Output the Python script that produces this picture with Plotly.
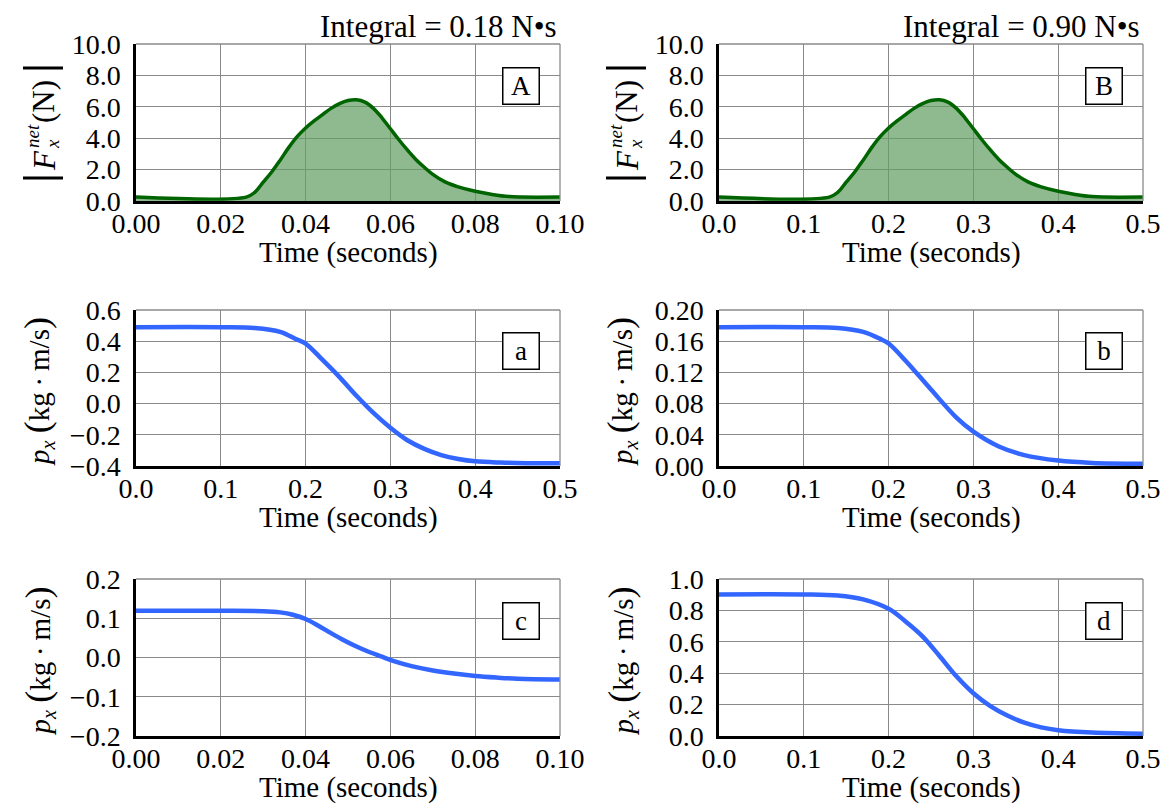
import plotly.graph_objects as go

W, H = 1160, 804
FONT = "Liberation Serif"

# ---------------- data ----------------
tA = [0, 0.026, 0.028, 0.030, 0.032, 0.034, 0.036, 0.038, 0.040, 0.042, 0.044, 0.046,
      0.048, 0.050, 0.052, 0.054, 0.056, 0.058, 0.060, 0.062, 0.064, 0.066, 0.068, 0.070,
      0.073, 0.076, 0.080, 0.084, 0.088, 0.091, 0.100]
fA = [0.25, 0.25, 0.55, 1.2, 1.85, 2.6, 3.4, 4.1, 4.65, 5.1, 5.5, 5.9,
      6.2, 6.4, 6.45, 6.3, 5.9, 5.3, 4.6, 3.9, 3.25, 2.65, 2.15, 1.7,
      1.2, 0.9, 0.62, 0.42, 0.28, 0.25, 0.25]

tB = [0, 0.13, 0.14, 0.15, 0.16, 0.17, 0.18, 0.19, 0.20, 0.21, 0.22, 0.23,
      0.24, 0.25, 0.26, 0.27, 0.28, 0.29, 0.30, 0.31, 0.32, 0.33, 0.34, 0.35,
      0.365, 0.38, 0.40, 0.42, 0.44, 0.455, 0.50]
fB = [0.25, 0.25, 0.55, 1.2, 1.85, 2.6, 3.4, 4.1, 4.65, 5.1, 5.5, 5.9,
      6.2, 6.4, 6.45, 6.3, 5.9, 5.3, 4.6, 3.9, 3.25, 2.65, 2.15, 1.7,
      1.2, 0.9, 0.62, 0.42, 0.28, 0.25, 0.25]

ta = [0, 0.10, 0.14, 0.17, 0.19, 0.20, 0.22, 0.24, 0.26, 0.28, 0.30, 0.32, 0.34, 0.36,
      0.38, 0.40, 0.43, 0.46, 0.50]
pa = [0.49, 0.49, 0.485, 0.46, 0.41, 0.385, 0.28, 0.17, 0.05, -0.06, -0.155, -0.235,
      -0.29, -0.33, -0.355, -0.37, -0.378, -0.382, -0.383]

tb = [0, 0.10, 0.14, 0.17, 0.19, 0.20, 0.22, 0.25, 0.28, 0.30, 0.33, 0.36, 0.40, 0.44, 0.50]
pb = [0.178, 0.178, 0.177, 0.172, 0.163, 0.157, 0.135, 0.098, 0.062, 0.044, 0.025,
      0.014, 0.007, 0.004, 0.003]

tc = [0, 0.020, 0.030, 0.034, 0.037, 0.040, 0.043, 0.046, 0.049, 0.052, 0.055, 0.058,
      0.061, 0.065, 0.070, 0.075, 0.080, 0.085, 0.090, 0.100]
pc = [0.119, 0.119, 0.118, 0.115, 0.109, 0.098, 0.081, 0.062, 0.044, 0.028, 0.014, 0.002,
      -0.010, -0.022, -0.033, -0.041, -0.047, -0.051, -0.054, -0.056]

td = [0, 0.10, 0.14, 0.17, 0.20, 0.22, 0.24, 0.26, 0.28, 0.30, 0.32, 0.34, 0.36, 0.38,
      0.40, 0.44, 0.50]
pd_ = [0.902, 0.902, 0.895, 0.87, 0.81, 0.73, 0.635, 0.51, 0.38, 0.272, 0.19, 0.13,
       0.085, 0.055, 0.037, 0.022, 0.015]

# tick values / labels
xt_short = [0, 0.02, 0.04, 0.06, 0.08, 0.10]
xl_short = ["0.00", "0.02", "0.04", "0.06", "0.08", "0.10"]
xt_long = [0, 0.1, 0.2, 0.3, 0.4, 0.5]
xl_long = ["0.0", "0.1", "0.2", "0.3", "0.4", "0.5"]
yt_F = [0, 2, 4, 6, 8, 10]
yl_F = ["0.0", "2.0", "4.0", "6.0", "8.0", "10.0"]
yt_a = [-0.4, -0.2, 0.0, 0.2, 0.4, 0.6]
yl_a = ["\u22120.4", "\u22120.2", "0.0", "0.2", "0.4", "0.6"]
yt_b = [0, 0.04, 0.08, 0.12, 0.16, 0.20]
yl_b = ["0.00", "0.04", "0.08", "0.12", "0.16", "0.20"]
yt_c = [-0.2, -0.1, 0.0, 0.1, 0.2]
yl_c = ["\u22120.2", "\u22120.1", "0.0", "0.1", "0.2"]
yt_d = [0, 0.2, 0.4, 0.6, 0.8, 1.0]
yl_d = ["0.0", "0.2", "0.4", "0.6", "0.8", "1.0"]

integral_labels = ["Integral = 0.18 N\u2022s", "Integral = 0.90 N\u2022s"]
panel_letters = ["A", "B", "a", "b", "c", "d"]

# per panel: (xmax, xticks, xlabels, ymin, ymax, yticks, ylabels)
axspec = [
    (0.10, xt_short, xl_short, 0, 10, yt_F, yl_F),
    (0.5, xt_long, xl_long, 0, 10, yt_F, yl_F),
    (0.5, xt_long, xl_long, -0.4, 0.6, yt_a, yl_a),
    (0.5, xt_long, xl_long, 0, 0.2, yt_b, yl_b),
    (0.10, xt_short, xl_short, -0.2, 0.2, yt_c, yl_c),
    (0.5, xt_long, xl_long, 0, 1.0, yt_d, yl_d),
]

# ---------------- layout geometry (pixels) ----------------
cols = [(136, 560), (719, 1143)]
rows = [(44, 201), (310, 466), (579, 736)]

def px(x):
    return x / W

def py(y):
    return 1 - y / H

fig = go.Figure()

GREEN = "#006400"
FILL = "rgba(100,160,100,0.72)"
BLUE = "#3366ff"

series = [(tA, fA), (tB, fB), (ta, pa), (tb, pb), (tc, pc), (td, pd_)]

layout = dict(
    width=W, height=H, margin=dict(l=0, r=0, t=0, b=0, autoexpand=False),
    paper_bgcolor="white", plot_bgcolor="white", showlegend=False,
    font=dict(family=FONT, size=28, color="black"),
)
annotations = []
shapes = []

for i, (tx, vy) in enumerate(series):
    r, c = divmod(i, 2)
    x0, x1 = cols[c]
    y0, y1 = rows[r]
    n = "" if i == 0 else str(i + 1)
    xa, ya = "x" + n, "y" + n
    xmax, xtv, xtl, ymin, ymax, ytv, ytl = axspec[i]
    common = dict(showgrid=True, gridcolor="#8a8a8a", gridwidth=1.3, zeroline=False,
                  showline=True, linecolor="black", linewidth=2.5, ticks="",
                  automargin=False, tickmode="array", ticklabeloverflow="allow",
                  tickfont=dict(family=FONT, size=28, color="black"))
    layout["xaxis" + n] = dict(domain=[px(x0), px(x1)], anchor=ya, range=[0, xmax],
                               tickvals=xtv, ticktext=xtl,
                               ticklabelstandoff=-4, **common)
    layout["yaxis" + n] = dict(domain=[py(y1), py(y0)], anchor=xa, range=[ymin, ymax],
                               tickvals=ytv, ticktext=ytl,
                               ticklabelstandoff=7, **common)
    if r == 0:
        fig.add_trace(go.Scatter(x=tx, y=vy, xaxis=xa, yaxis=ya, mode="lines",
                                 line=dict(color=GREEN, width=3.5, shape="spline", smoothing=1.0),
                                 fill="tozeroy", fillcolor=FILL, hoverinfo="skip"))
    else:
        fig.add_trace(go.Scatter(x=tx, y=vy, xaxis=xa, yaxis=ya, mode="lines",
                                 line=dict(color=BLUE, width=4.5, shape="spline", smoothing=1.0),
                                 hoverinfo="skip"))
    # gray top/right border
    shapes.append(dict(type="line", xref=xa + " domain", yref=ya + " domain",
                       x0=0, x1=1, y0=1, y1=1, line=dict(color="#8a8a8a", width=1.3)))
    shapes.append(dict(type="line", xref=xa + " domain", yref=ya + " domain",
                       x0=1, x1=1, y0=0, y1=1, line=dict(color="#8a8a8a", width=1.3)))
    # panel letter box
    annotations.append(dict(xref=xa + " domain", yref=ya + " domain", x=0.908, y=0.735,
                            text=panel_letters[i], showarrow=False,
                            font=dict(family=FONT, size=27, color="black"),
                            bgcolor="white", bordercolor="black", borderwidth=1.5,
                            borderpad=1, width=33, height=33,
                            xanchor="center", yanchor="middle"))
    # x title
    annotations.append(dict(xref="paper", yref="paper", x=px((x0 + x1) / 2), y=py(y1 + 51),
                            text="Time (seconds)", showarrow=False,
                            font=dict(family=FONT, size=29, color="black"),
                            xanchor="center", yanchor="middle"))
    # y titles
    lx = x0 - 136
    if r == 0:
        annotations += [
            dict(xref="paper", yref="paper", x=px(lx + 44), y=py(161), text="<i>F</i>",
                 showarrow=False, textangle=-90, font=dict(family=FONT, size=31, color="black"),
                 xanchor="center", yanchor="middle"),
            dict(xref="paper", yref="paper", x=px(lx + 53), y=py(144), text="<i>x</i>",
                 showarrow=False, textangle=-90, font=dict(family=FONT, size=19, color="black"),
                 xanchor="center", yanchor="middle"),
            dict(xref="paper", yref="paper", x=px(lx + 32), y=py(136), text="<i>net</i>",
                 showarrow=False, textangle=-90, font=dict(family=FONT, size=19, color="black"),
                 xanchor="center", yanchor="middle"),
            dict(xref="paper", yref="paper", x=px(lx + 43), y=py(102), text="(N)",
                 showarrow=False, textangle=-90, font=dict(family=FONT, size=31, color="black"),
                 xanchor="center", yanchor="middle"),
        ]
        for by in (68, 178):
            shapes.append(dict(type="line", xref="paper", yref="paper",
                               x0=px(lx + 23), x1=px(lx + 63), y0=py(by), y1=py(by),
                               line=dict(color="black", width=3)))
        annotations.append(dict(xref="paper", yref="paper", x=px(x1 - 1), y=py(26),
                                text=integral_labels[c], showarrow=False,
                                font=dict(family=FONT, size=31, color="black"),
                                xanchor="right", yanchor="middle"))
    else:
        cy = (y0 + y1) / 2 + 4
        annotations.append(dict(
            xref="paper", yref="paper", x=px(lx + 38), y=py(cy),
            text="<i>p</i><sub><i>x</i></sub> <span style='font-size:36px'>(</span>kg\u2009\u00b7\u2009m/s<span style='font-size:36px'>)</span>",
            showarrow=False, textangle=-90, font=dict(family=FONT, size=29, color="black"),
            xanchor="center", yanchor="middle"))

layout["annotations"] = annotations
layout["shapes"] = shapes
fig.update_layout(**layout)

fig.write_html("out.html", config={"displayModeBar": False},
               post_script="document.body.style.margin='0';")
